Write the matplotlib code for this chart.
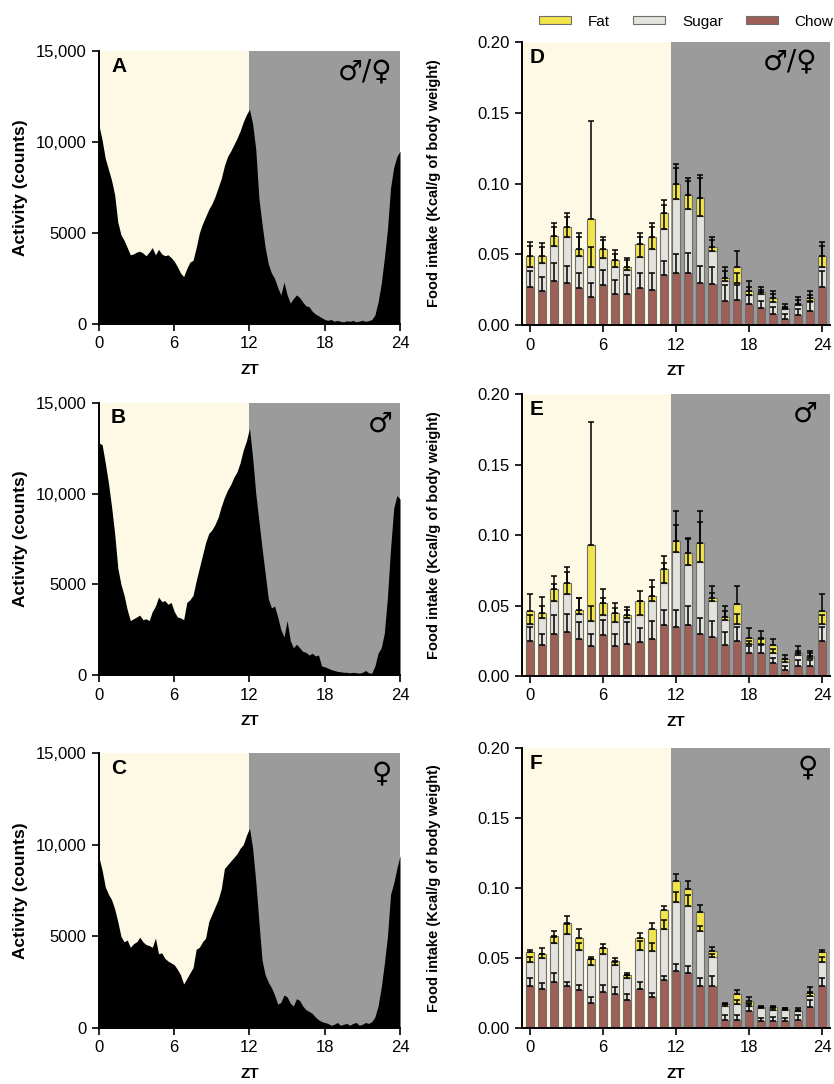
import numpy as np
import matplotlib.pyplot as plt
from matplotlib.patches import Patch

plt.rcParams['font.family'] = ['Liberation Sans', 'DejaVu Sans']

# locomotor activity, 15-min resolution, ZT0..ZT24
act_all = [10900, 10100, 9100, 8500,
           7900, 7100, 5600, 4900,
           4600, 4200, 3800, 3850,
           3950, 4000, 3900, 3750,
           3950, 4200, 3800, 4100,
           3850, 3750, 3800, 3650,
           3450, 3150, 2800, 2600,
           3050, 3400, 3500, 4200,
           5000, 5500, 5900, 6300,
           6600, 7000, 7500, 8000,
           8700, 9200, 9500, 9850,
           10200, 10600, 11100, 11500,
           11800, 11000, 9600, 6900,
           5500, 4200, 3300, 2800,
           2500, 2000, 1600, 2300,
           1600, 1150, 1400, 1600,
           1450, 1200, 1000, 950,
           700, 550, 450, 350,
           250, 200, 250, 150,
           200, 150, 120, 180,
           150, 200, 120, 160,
           200, 150, 180, 250,
           500, 1200, 2200, 3600,
           5200, 7500, 8600, 9200,
           9500]

act_male = [12800, 12700, 11700, 10600,
            9300, 7800, 5900, 5000,
            4400, 3600, 3000, 3100,
            3200, 3300, 3050, 3100,
            3000, 3500, 3800, 4300,
            4050, 4100, 3900, 4000,
            3500, 3200, 3150, 3050,
            4000, 4150, 4400, 5200,
            5900, 6600, 7300, 7800,
            8000, 8300, 8700, 9300,
            9800, 10200, 10500, 10900,
            11200, 11700, 12400, 12900,
            13600, 12000, 10000, 8500,
            7000, 5600, 4200, 3700,
            3800, 3200, 2500, 2100,
            3000, 1900, 1500, 1700,
            1500, 1300, 1250, 1100,
            1200, 1050, 1100, 500,
            450, 380, 300, 250,
            200, 180, 150, 150,
            120, 150, 130, 100,
            150, 250, 120, 100,
            500, 1200, 1500, 2300,
            4300, 7000, 9200, 9900,
            9700]

act_female = [9300, 8600, 7700, 7300,
              7000, 6500, 5800, 5000,
              4700, 4800, 4400, 4600,
              4700, 4950, 4700, 4550,
              4500, 4400, 4900, 4050,
              4100, 3800, 3650, 3550,
              3450, 3200, 2900, 2400,
              2700, 3000, 3300, 4300,
              4400, 4700, 4900, 5800,
              6200, 6600, 7000, 7600,
              8700, 8900, 9100, 9300,
              9500, 9800, 10000, 10500,
              10900, 9800, 8000, 5800,
              3700, 2900, 2500, 2200,
              1800, 1300, 1400, 1800,
              1700, 1350, 1200, 1600,
              1500, 1200, 1000, 900,
              800, 600, 450, 350,
              300, 250, 150, 200,
              300, 150, 200, 250,
              150, 250, 300, 150,
              200, 300, 250, 350,
              600, 1200, 2200, 3500,
              5000, 7300, 7900, 8700,
              9400]

# hourly food intake (Kcal/g), stacked segments + upward SEM
zt_hours = list(range(25))

chow_d = [0.027, 0.024, 0.031, 0.030, 0.026, 0.020, 0.028, 0.022, 0.022, 0.026, 0.025, 0.035, 0.037,
          0.037, 0.030, 0.029, 0.017, 0.018, 0.015, 0.012, 0.008, 0.004, 0.007, 0.010, 0.027]
sugar_d = [0.014, 0.020, 0.025, 0.032, 0.023, 0.021, 0.019, 0.019, 0.017, 0.022, 0.029, 0.033, 0.052,
           0.045, 0.047, 0.023, 0.014, 0.012, 0.006, 0.010, 0.008, 0.007, 0.007, 0.007, 0.014]
fat_d = [0.008, 0.005, 0.007, 0.007, 0.005, 0.034, 0.007, 0.005, 0.002, 0.009, 0.008, 0.011, 0.011,
         0.010, 0.013, 0.003, 0.002, 0.011, 0.003, 0.001, 0.003, 0.001, 0.001, 0.002, 0.008]
chow_err_d = [0.011, 0.010, 0.013, 0.012, 0.011, 0.010, 0.011, 0.010, 0.013, 0.011, 0.012, 0.010, 0.013,
              0.014, 0.012, 0.012, 0.011, 0.010, 0.006, 0.005, 0.005, 0.004, 0.004, 0.006, 0.011]
sugar_err_d = [0.015, 0.011, 0.013, 0.014, 0.013, 0.014, 0.013, 0.009, 0.007, 0.014, 0.015, 0.017, 0.022,
               0.020, 0.027, 0.008, 0.007, 0.007, 0.006, 0.003, 0.006, 0.002, 0.004, 0.004, 0.015]
fat_err_d = [0.010, 0.009, 0.009, 0.010, 0.011, 0.069, 0.008, 0.007, 0.006, 0.008, 0.010, 0.009, 0.014,
             0.012, 0.016, 0.007, 0.008, 0.011, 0.007, 0.004, 0.005, 0.003, 0.005, 0.005, 0.010]

chow_e = [0.025, 0.022, 0.030, 0.031, 0.026, 0.021, 0.029, 0.021, 0.023, 0.024, 0.026, 0.036, 0.035,
          0.036, 0.030, 0.028, 0.022, 0.025, 0.016, 0.016, 0.009, 0.004, 0.007, 0.007, 0.025]
sugar_e = [0.012, 0.019, 0.023, 0.027, 0.018, 0.018, 0.014, 0.017, 0.018, 0.019, 0.027, 0.030, 0.053,
           0.043, 0.051, 0.025, 0.018, 0.012, 0.007, 0.007, 0.007, 0.006, 0.008, 0.006, 0.012]
fat_e = [0.009, 0.004, 0.009, 0.008, 0.003, 0.054, 0.009, 0.007, 0.002, 0.010, 0.004, 0.010, 0.008,
         0.008, 0.013, 0.002, 0.002, 0.014, 0.004, 0.004, 0.006, 0.002, 0.001, 0.001, 0.009]
chow_err_e = [0.010, 0.008, 0.013, 0.013, 0.012, 0.009, 0.011, 0.009, 0.015, 0.010, 0.013, 0.011, 0.012,
              0.014, 0.011, 0.011, 0.009, 0.010, 0.005, 0.006, 0.004, 0.003, 0.004, 0.004, 0.010]
sugar_err_e = [0.006, 0.009, 0.012, 0.016, 0.011, 0.011, 0.012, 0.010, 0.006, 0.010, 0.010, 0.014, 0.019,
               0.018, 0.028, 0.006, 0.006, 0.007, 0.002, 0.003, 0.003, 0.002, 0.003, 0.003, 0.006]
fat_err_e = [0.012, 0.011, 0.009, 0.011, 0.008, 0.087, 0.010, 0.007, 0.006, 0.007, 0.011, 0.009, 0.021,
             0.011, 0.023, 0.009, 0.008, 0.013, 0.007, 0.005, 0.004, 0.003, 0.005, 0.004, 0.012]

chow_f = [0.030, 0.028, 0.033, 0.030, 0.027, 0.018, 0.026, 0.024, 0.020, 0.028, 0.022, 0.034, 0.041,
          0.039, 0.030, 0.030, 0.006, 0.006, 0.012, 0.005, 0.005, 0.005, 0.006, 0.015, 0.030]
sugar_f = [0.017, 0.022, 0.028, 0.037, 0.029, 0.027, 0.027, 0.021, 0.016, 0.028, 0.033, 0.037, 0.049,
           0.048, 0.039, 0.021, 0.010, 0.011, 0.004, 0.009, 0.008, 0.008, 0.006, 0.008, 0.017]
fat_f = [0.007, 0.003, 0.005, 0.008, 0.008, 0.004, 0.004, 0.003, 0.002, 0.008, 0.016, 0.013, 0.015,
         0.012, 0.014, 0.004, 0.001, 0.007, 0.003, 0.001, 0.002, 0.0005, 0.0005, 0.002, 0.007]
chow_err_f = [0.006, 0.004, 0.006, 0.003, 0.004, 0.004, 0.005, 0.005, 0.004, 0.005, 0.003, 0.003, 0.005,
              0.005, 0.006, 0.007, 0.003, 0.003, 0.005, 0.002, 0.003, 0.002, 0.003, 0.005, 0.006]
sugar_err_f = [0.004, 0.003, 0.004, 0.007, 0.005, 0.004, 0.004, 0.002, 0.002, 0.006, 0.006, 0.006, 0.007,
               0.008, 0.004, 0.002, 0.001, 0.003, 0.002, 0.001, 0.001, 0.001, 0.001, 0.003, 0.004]
fat_err_f = [0.002, 0.004, 0.003, 0.005, 0.007, 0.002, 0.003, 0.002, 0.001, 0.004, 0.004, 0.003, 0.005,
             0.006, 0.005, 0.003, 0.001, 0.003, 0.003, 0.001, 0.001, 0.001, 0.002, 0.004, 0.002]

LIGHT = '#FEF9E5'
DARK = '#9B9B9B'
CHOW = '#9E5F57'
SUGAR = '#E4E2DC'
FAT = '#F2E44B'
EDGE = '#6E6E6E'

fig = plt.figure(figsize=(8.34, 10.84), dpi=100)


def px_axes(left, top, right, bottom):
    W, H = 834, 1084
    return fig.add_axes([left / W, 1 - bottom / H, (right - left) / W, (bottom - top) / H])


def style(ax):
    for s in ['top', 'right']:
        ax.spines[s].set_visible(False)
    for s in ['left', 'bottom']:
        ax.spines[s].set_linewidth(1.4)
        ax.spines[s].set_zorder(6)
    ax.tick_params(direction='out', length=5, width=1.2, labelsize=12, pad=4)
    ax.set_xlabel('ZT', fontsize=11, fontweight='bold', labelpad=8)


def activity_panel(box, values, letter, sex):
    ax = px_axes(*box)
    t = np.linspace(0, 24, len(values))
    ax.axvspan(0, 12, color=LIGHT, lw=0, zorder=0)
    ax.axvspan(12, 24, color=DARK, lw=0, zorder=0)
    ax.fill_between(t, values, 0, color='black', lw=0, zorder=2)
    ax.set_xlim(0, 24)
    ax.set_ylim(0, 15000)
    ax.set_xticks([0, 6, 12, 18, 24])
    ax.set_yticks([0, 5000, 10000, 15000])
    ax.set_yticklabels(['0', '5000', '10,000', '15,000'])
    style(ax)
    ax.set_ylabel('Activity (counts)', fontsize=12.5, fontweight='bold')
    ax.yaxis.set_label_coords(-0.235, 0.5)
    ax.text(0.04, 0.945, letter, transform=ax.transAxes, fontsize=15,
            fontweight='bold', va='center', ha='left', zorder=7)
    ax.text(0.975, 0.925, sex, transform=ax.transAxes, fontsize=20, family='DejaVu Sans',
            va='center', ha='right', zorder=7)
    return ax


def intake_panel(box, chow, sugar, fat, e_chow, e_sugar, e_fat, letter, sex):
    ax = px_axes(*box)
    x = np.array(zt_hours)
    chow = np.array(chow)
    sugar = np.array(sugar)
    fat = np.array(fat)
    ax.axvspan(-0.66, 11.6, color=LIGHT, lw=0, zorder=0)
    ax.axvspan(11.6, 24.66, color=DARK, lw=0, zorder=0)
    kw = dict(width=0.66, edgecolor=EDGE, linewidth=0.8, zorder=2)
    ax.bar(x, chow, color=CHOW, **kw)
    ax.bar(x, sugar, bottom=chow, color=SUGAR, **kw)
    ax.bar(x, fat, bottom=chow + sugar, color=FAT, **kw)
    zeros = np.zeros(len(x))
    ekw = dict(fmt='none', ecolor='black', elinewidth=1.1, capsize=2.2, capthick=1.1, zorder=4)
    ax.errorbar(x, chow, yerr=[zeros, e_chow], **ekw)
    ax.errorbar(x, chow + sugar, yerr=[zeros, e_sugar], **ekw)
    ax.errorbar(x, chow + sugar + fat, yerr=[zeros, e_fat], **ekw)
    ax.set_xlim(-0.66, 24.66)
    ax.set_ylim(0, 0.20)
    ax.set_xticks([0, 6, 12, 18, 24])
    ax.set_yticks([0, 0.05, 0.10, 0.15, 0.20])
    ax.set_yticklabels(['0.00', '0.05', '0.10', '0.15', '0.20'])
    style(ax)
    ax.set_ylabel('Food intake (Kcal/g of body weight)', fontsize=10.5, fontweight='bold')
    ax.yaxis.set_label_coords(-0.262, 0.5)
    ax.text(0.025, 0.945, letter, transform=ax.transAxes, fontsize=15,
            fontweight='bold', va='center', ha='left', zorder=7)
    ax.text(0.96, 0.93, sex, transform=ax.transAxes, fontsize=20, family='DejaVu Sans',
            va='center', ha='right', zorder=7)
    return ax


activity_panel((99, 51, 400, 324), act_all, 'A', '♂/♀')
activity_panel((99, 403, 400, 675), act_male, 'B', '♂')
activity_panel((99, 753, 400, 1028), act_female, 'C', '♀')

intake_panel((522, 42, 830, 325), chow_d, sugar_d, fat_d,
             chow_err_d, sugar_err_d, fat_err_d, 'D', '♂/♀')
intake_panel((522, 394, 830, 676), chow_e, sugar_e, fat_e,
             chow_err_e, sugar_err_e, fat_err_e, 'E', '♂')
intake_panel((522, 748, 830, 1028), chow_f, sugar_f, fat_f,
             chow_err_f, sugar_err_f, fat_err_f, 'F', '♀')

handles = [Patch(facecolor=FAT, edgecolor=EDGE, lw=0.8),
           Patch(facecolor=SUGAR, edgecolor=EDGE, lw=0.8),
           Patch(facecolor=CHOW, edgecolor=EDGE, lw=0.8)]
fig.legend(handles, ['Fat', 'Sugar', 'Chow'], loc='center', bbox_to_anchor=(0.823, 0.980),
           ncol=3, frameon=False, fontsize=11, handlelength=2.1, handleheight=0.45,
           handletextpad=1.1, columnspacing=1.5)

fig.savefig('out.png', dpi=100)
